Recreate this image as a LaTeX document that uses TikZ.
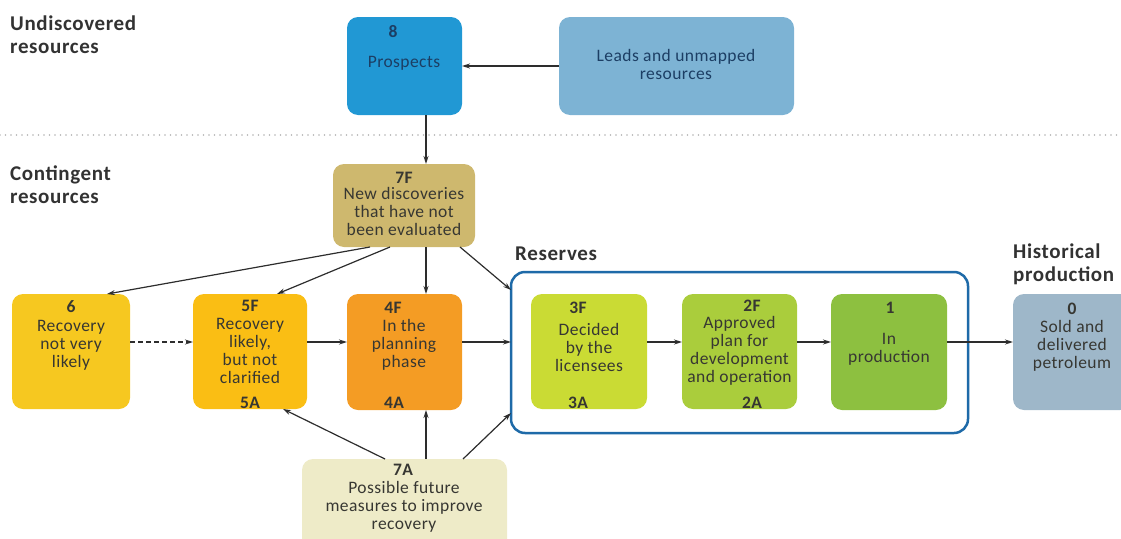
\documentclass[tikz,border=0pt]{standalone}
\usepackage{fontspec}
\setmainfont{Carlito}
\usetikzlibrary{arrows.meta}
\definecolor{c8}{RGB}{33,152,212}
\definecolor{cleads}{RGB}{125,179,212}
\definecolor{c7f}{RGB}{206,184,110}
\definecolor{c6}{RGB}{246,200,32}
\definecolor{c5}{RGB}{250,190,20}
\definecolor{c4}{RGB}{244,156,36}
\definecolor{c3}{RGB}{202,219,52}
\definecolor{c2}{RGB}{170,205,60}
\definecolor{c1}{RGB}{141,192,64}
\definecolor{c0}{RGB}{158,183,201}
\definecolor{c7a}{RGB}{238,235,200}
\definecolor{resc}{RGB}{30,106,168}
\definecolor{txtc}{RGB}{55,55,50}
\definecolor{headc}{RGB}{50,50,50}
\definecolor{navy}{RGB}{28,62,100}
\definecolor{arrc}{RGB}{45,45,45}
\begin{document}
\begin{tikzpicture}[x=1pt,y=-1pt,
  box/.style={rounded corners=11pt, inner sep=0pt, outer sep=0pt},
  txt/.style={font=\fontsize{17.5}{18}\selectfont\addfontfeatures{LetterSpace=2.5}, align=center, inner sep=0pt, text=txtc},
  num/.style={font=\fontsize{17.5}{18}\selectfont\bfseries\addfontfeatures{LetterSpace=2.5}, inner sep=0pt, text=txtc},
  head/.style={font=\fontsize{21}{23}\selectfont\bfseries\addfontfeatures{LetterSpace=3}, align=left, anchor=west, inner sep=0pt, text=headc},
  arr/.style={-{Stealth[length=8pt,width=5pt]}, line width=1.2pt, draw=arrc},
  darr/.style={arr, dash pattern=on 5pt off 3pt}]
\clip (0,0) rectangle (1121,538);

% headings
\node[head] (h1) at (10,35) {Undiscovered\\resources};
\node[head] (h2) at (10,185) {Contingent\\resources};
\node[head] (h3) at (515,254) {Reserves};
\node[head] (h4) at (1013,264) {Historical\\production};

% separator
\coordinate (sepL) at (0,135);
\coordinate (sepR) at (1121,135);
\draw[gray!60, line width=1.6pt, dash pattern=on 0pt off 5.5pt, line cap=round] (sepL) -- (sepR);

% boxes
\node[box, fill=c8, minimum width=115pt, minimum height=98pt] (p8) at (404.5,66) {};
\node[box, fill=cleads, minimum width=235pt, minimum height=98pt] (leads) at (676.5,66) {};
\node[box, fill=c7f, minimum width=142pt, minimum height=83pt] (f7) at (404,205.5) {};
\node[box, fill=c6, minimum width=118pt, minimum height=115pt] (b6) at (71,351.5) {};
\node[box, fill=c5, minimum width=114pt, minimum height=115pt] (b5) at (250,351.5) {};
\node[box, fill=c4, minimum width=115pt, minimum height=116pt] (b4) at (404.5,352) {};
\node[box, draw=resc, line width=2.5pt, rounded corners=14pt, minimum width=457pt, minimum height=161pt] (res) at (739.5,352.5) {};
\node[box, fill=c3, minimum width=116pt, minimum height=115pt] (b3) at (589,351.5) {};
\node[box, fill=c2, minimum width=115pt, minimum height=115pt] (b2) at (739.5,351.5) {};
\node[box, fill=c1, minimum width=116pt, minimum height=116pt] (b1) at (889,352) {};
\node[box, fill=c0, minimum width=118pt, minimum height=116pt] (b0) at (1072,352) {};
\node[box, fill=c7a, minimum width=205pt, minimum height=101pt] (a7) at (404.5,509.5) {};

% texts
\node[num, text=navy] (t8) at (393,32) {8};
\node[txt, text=navy] (t8b) at (404,63) {Prospects};
\node[txt, text=navy] (tl) at (676,64.5) {Leads and unmapped\\resources};
\node[num] (t7f) at (404,177.5) {7F};
\node[txt] (t7fb) at (404,211) {New discoveries\\that have not\\been evaluated};
\node[num] (t6) at (71,307) {6};
\node[txt] (t6b) at (71,345) {Recovery\\not very\\likely};
\node[num] (t5f) at (250,306) {5F};
\node[txt] (t5b) at (250,350.5) {Recovery\\likely,\\but not\\clarified};
\node[num] (t5a) at (250,403) {5A};
\node[num] (t4f) at (393,308) {4F};
\node[txt] (t4b) at (404,345) {In the\\planning\\phase};
\node[num] (t4a) at (394,403) {4A};
\node[num] (t3f) at (578,308) {3F};
\node[txt] (t3b) at (589,347.5) {Decided\\by the\\licensees};
\node[num] (t3a) at (578,403) {3A};
\node[num] (t2f) at (752,306) {2F};
\node[txt] (t2b) at (739.5,351) {Approved\\plan for\\development\\and operation};
\node[num] (t2a) at (752,403) {2A};
\node[num] (t1) at (890,308) {1};
\node[txt] (t1b) at (889,349) {In\\production};
\node[num] (t0) at (1072,309) {0};
\node[txt] (t0b) at (1072,346) {Sold and\\delivered\\petroleum};
\node[num] (t7a) at (403,469.5) {7A};
\node[txt] (t7ab) at (404,507) {Possible future\\measures to improve\\recovery};

% connectors
\draw[arr] (leads.west) -- (p8.east);
\draw[arr] ([xshift=21.5pt]p8.south) -- ([xshift=22pt]f7.north);
\draw[arr] ([xshift=-34pt]f7.south) -- ([xshift=36pt]b6.north);
\draw[arr] ([xshift=-14pt]f7.south) -- ([xshift=27pt]b5.north);
\draw[arr] ([xshift=22pt]f7.south) -- ([xshift=21.5pt]b4.north);
\draw[arr] ([xshift=56pt]f7.south) -- ([yshift=62.5pt]res.west);
\draw[darr] ([yshift=9.5pt]b6.east) -- ([yshift=9.5pt]b5.west);
\draw[arr] ([yshift=9.5pt]b5.east) -- ([yshift=10pt]b4.west);
\draw[arr] ([yshift=10pt]b4.east) -- ([yshift=10.5pt]res.west);
\draw[arr] ([yshift=9.5pt]b3.east) -- ([yshift=9.5pt]b2.west);
\draw[arr] ([yshift=9.5pt]b2.east) -- ([yshift=10pt]b1.west);
\draw[arr] ([yshift=10pt]b1.east) -- ([yshift=10pt]b0.west);
\draw[arr] ([xshift=-19.5pt]a7.north) -- ([xshift=33pt]b5.south);
\draw[arr] ([xshift=21.5pt]a7.north) -- ([xshift=21.5pt]b4.south);
\draw[arr] ([xshift=58.5pt]a7.north) -- ([yshift=-60.5pt]res.west);
\end{tikzpicture}
\end{document}
